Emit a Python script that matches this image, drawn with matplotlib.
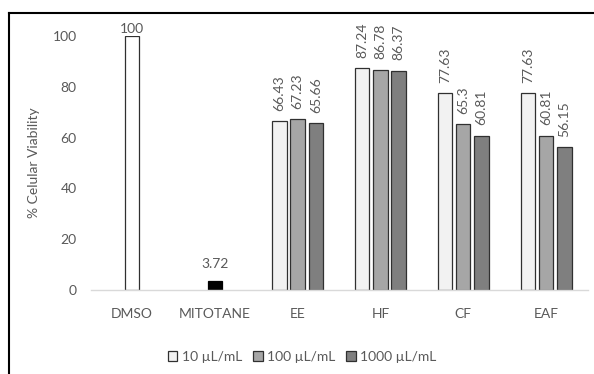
import matplotlib
matplotlib.use("Agg")
import matplotlib.pyplot as plt
from matplotlib.patches import Patch
from matplotlib.lines import Line2D

plt.rcParams['font.family'] = ['Lato', 'DejaVu Sans']

categories = ["DMSO", "MITOTANE", "EE", "HF", "CF", "EAF"]
series_names = ["10 µL/mL", "100 µL/mL", "1000 µL/mL"]
dmso_value = 100
mitotane_value = 3.72
group_categories = ["EE", "HF", "CF", "EAF"]
s10 = [66.43, 87.24, 77.63, 77.63]
s100 = [67.23, 86.78, 65.3, 60.81]
s1000 = [65.66, 86.37, 60.81, 56.15]
yticks = [0, 20, 40, 60, 80, 100]

txt = "#595959"
colors = ["#f2f2f2", "#a6a6a6", "#7f7f7f"]
edge = "#303030"
fs = 10

fig = plt.figure(figsize=(5.94, 3.74), dpi=100)
ax = fig.add_axes([90.5/594, 1-290/374, 497/594, 254/374])

w = 0.175
off = 0.22
# DMSO
ax.bar(0, dmso_value, w, color="white", edgecolor=edge, linewidth=0.9)
ax.text(0, dmso_value + 0.5, "100", ha="center", va="bottom", color=txt, fontsize=fs)
# Mitotane
ax.bar(1, mitotane_value, w, color="black", edgecolor="black", linewidth=0.9)
ax.text(1, mitotane_value + 4, "3.72", ha="center", va="bottom", color=txt, fontsize=fs)

for si, vals in enumerate([s10, s100, s1000]):
    for gi, v in enumerate(vals):
        x = 2 + gi + (si - 1) * off
        ax.bar(x, v, w, color=colors[si], edgecolor=edge, linewidth=0.9)
        ax.text(x, v + 4, f"{v:g}", rotation=90, ha="center", va="bottom",
                color=txt, fontsize=fs)

ax.set_xlim(-0.5, 5.5)
ax.set_ylim(0, 100)
ax.set_yticks(yticks)
ax.set_xticks(range(len(categories)))
ax.set_xticklabels(categories)
ax.tick_params(axis="both", length=0, colors=txt, labelsize=fs)
ax.tick_params(axis="x", pad=13)
ax.tick_params(axis="y", pad=10)
for s in ["top", "right", "left"]:
    ax.spines[s].set_visible(False)
ax.spines["bottom"].set_color("#d9d9d9")
ax.spines["bottom"].set_linewidth(1)
ax.set_ylabel("% Celular Viability", color=txt, fontsize=fs, labelpad=9)

handles = [Patch(facecolor=c, edgecolor=edge, linewidth=0.9) for c in colors]
leg = fig.legend(handles, series_names, loc="center", bbox_to_anchor=(302/594, 1-357/374),
                 ncol=3, frameon=False, fontsize=fs, handlelength=0.7, handleheight=0.7,
                 handletextpad=0.3, columnspacing=0.8)
for t in leg.get_texts():
    t.set_color(txt)

# outer border (top and left visible)
fig.add_artist(Line2D([9/594, 9/594], [0, 1-13/374], transform=fig.transFigure, color="black", linewidth=1.5))
fig.add_artist(Line2D([9/594, 1], [1-13/374, 1-13/374], transform=fig.transFigure, color="black", linewidth=1.5))

fig.savefig("out.png", dpi=100)
